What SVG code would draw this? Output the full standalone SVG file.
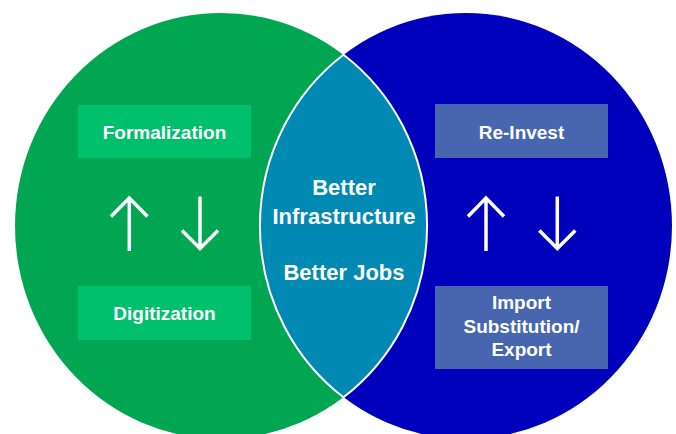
<svg xmlns="http://www.w3.org/2000/svg" width="676" height="434" viewBox="0 0 676 434">
  <style>
    .t { font-family: "Liberation Sans", Arial, sans-serif; font-weight: bold; fill: #ffffff; text-anchor: middle; }
    .box { font-size: 19px; }
    .mid { font-size: 22px; }
    .arr { fill: none; stroke: #ffffff; stroke-width: 3.5; stroke-linecap: butt; stroke-linejoin: miter; }
  </style>
  <rect width="676" height="434" fill="#ffffff"/>
  <g id="green-circle">
    <ellipse cx="221" cy="226" rx="206" ry="213" fill="#00a651"/>
  </g>
  <g id="blue-circle">
    <ellipse cx="466" cy="226" rx="206" ry="213" fill="#0000bc"/>
  </g>
  <g id="overlap">
    <path d="M343.5,54.7 A206,213 0 0 1 343.5,397.3 A206,213 0 0 1 343.5,54.7 Z" fill="#008ab3" stroke="#ffffff" stroke-width="2"/>
    <text class="t mid" x="344" y="195">Better</text>
    <text class="t mid" x="344" y="224">Infrastructure</text>
    <text class="t mid" x="344" y="280">Better Jobs</text>
  </g>
  <g id="formalization">
    <rect x="78" y="105" width="173" height="53" fill="#00c06d"/>
    <text class="t box" x="164.5" y="138.5">Formalization</text>
  </g>
  <g id="digitization">
    <rect x="78" y="286" width="173" height="54" fill="#00c06d"/>
    <text class="t box" x="164.5" y="320">Digitization</text>
  </g>
  <g id="reinvest">
    <rect x="435" y="104" width="173" height="54" fill="#4866b0"/>
    <text class="t box" x="521.5" y="138.5">Re-Invest</text>
  </g>
  <g id="import">
    <rect x="435" y="286" width="173" height="83" fill="#4866b0"/>
    <text class="t box" x="521.5" y="308.5">Import</text>
    <text class="t box" x="521.5" y="332.5">Substitution/</text>
    <text class="t box" x="521.5" y="356">Export</text>
  </g>
  <g id="connectors">
    <path class="arr" d="M129.3,251 V198 M111,216.5 L129.3,198 L147.5,216.5"/>
    <path class="arr" d="M200,196.5 V248.5 M182,230.5 L200,248.5 L218,230.5"/>
    <path class="arr" d="M486,251 V198 M468,216.5 L486,198 L504,216.5"/>
    <path class="arr" d="M557.3,196.5 V248.5 M539.3,230.5 L557.3,248.5 L575.3,230.5"/>
  </g>
</svg>
